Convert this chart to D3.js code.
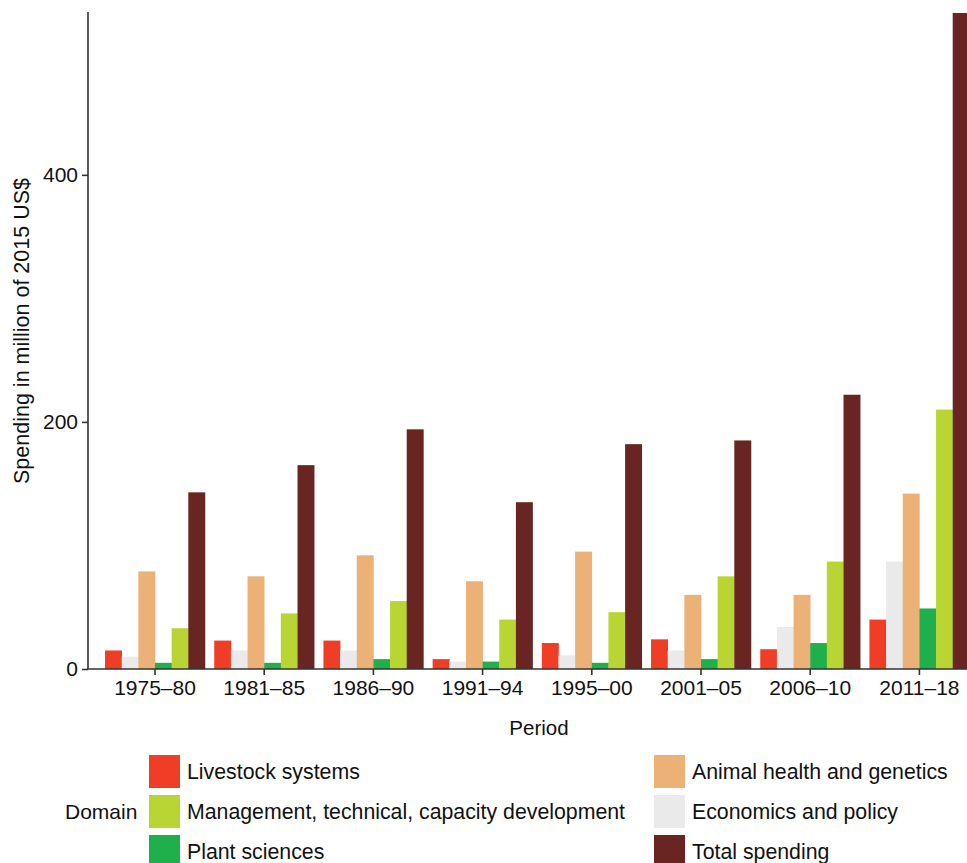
<!DOCTYPE html>
<html>
<head>
<meta charset="utf-8">
<script src="https://cdn.jsdelivr.net/npm/d3@7"></script>
<style>
  html, body { margin: 0; padding: 0; background: #fff; }
  svg { display: block; font-family: "Liberation Sans", Arial, Helvetica, sans-serif; }
</style>
</head>
<body>
<svg id="chart" width="967" height="863"></svg>
<script>
// ---- data ----
const periods = ["1975–80", "1981–85", "1986–90", "1991–94", "1995–00", "2001–05", "2006–10", "2011–18"];
const seriesKeys = ["Livestock systems", "Economics and policy", "Animal health and genetics", "Plant sciences", "Management, technical, capacity development", "Total spending"];
const livestock   = [15, 23, 23, 8, 21, 24, 16, 40];
const economics   = [10, 15, 15, 6, 11, 15, 34, 87];
const animal      = [79, 75, 92, 71, 95, 60, 60, 142];
const plant       = [5, 5, 8, 6, 5, 8, 21, 49];
const management  = [33, 45, 55, 40, 46, 75, 87, 210];
const total       = [143, 165, 194, 135, 182, 185, 222, 531];
const yTicks = [0, 200, 400];
const legendOrder = [
  ["Livestock systems", "Animal health and genetics"],
  ["Management, technical, capacity development", "Economics and policy"],
  ["Plant sciences", "Total spending"]
];
const colors = {
  "Livestock systems": "#EF3E25",
  "Economics and policy": "#EAEAEA",
  "Animal health and genetics": "#ECB176",
  "Plant sciences": "#1FB04B",
  "Management, technical, capacity development": "#B8D534",
  "Total spending": "#682522"
};
const valuesByKey = {
  "Livestock systems": livestock,
  "Economics and policy": economics,
  "Animal health and genetics": animal,
  "Plant sciences": plant,
  "Management, technical, capacity development": management,
  "Total spending": total
};

// ---- chart ----
const svg = d3.select("#chart");
const axisX = 88, baseY = 669, topY = 13;

const y = d3.scaleLinear().domain([0, 531]).range([baseY, topY]);
const x = d3.scaleBand().domain(periods).range([100.4, 974]).paddingInner(0.085).paddingOuter(0.0425);
const xs = d3.scaleBand().domain(seriesKeys).range([0, x.bandwidth()]).padding(0);

// bars
const groups = svg.append("g").selectAll("g").data(periods).join("g")
  .attr("transform", d => `translate(${x(d)},0)`);
groups.selectAll("rect")
  .data((p, i) => seriesKeys.map(k => ({ key: k, value: valuesByKey[k][i] })))
  .join("rect")
  .attr("x", d => xs(d.key))
  .attr("width", xs.bandwidth() + 0.3)
  .attr("y", d => y(d.value))
  .attr("height", d => baseY - y(d.value))
  .attr("fill", d => colors[d.key]);

// y axis
const yAxis = svg.append("g").attr("transform", `translate(${axisX},0)`)
  .call(d3.axisLeft(y).tickValues(yTicks).tickSize(6).tickPadding(4).tickSizeOuter(0));
yAxis.select(".domain").remove();
yAxis.append("line").attr("x1", 0).attr("x2", 0).attr("y1", 12).attr("y2", baseY)
  .attr("stroke", "#333").attr("stroke-width", 1.6);
yAxis.selectAll(".tick line").attr("stroke", "#333").attr("stroke-width", 1.6);
yAxis.selectAll(".tick text").attr("font-size", 21).attr("fill", "#111")
  .attr("font-family", "Liberation Sans, Arial, sans-serif");

// x axis
const xAxis = svg.append("g").attr("transform", `translate(0,${baseY})`)
  .call(d3.axisBottom(x).tickSize(6).tickPadding(5).tickSizeOuter(0));
xAxis.select(".domain").remove();
xAxis.append("line").attr("x1", axisX - 0.8).attr("x2", 967).attr("y1", 0).attr("y2", 0)
  .attr("stroke", "#333").attr("stroke-width", 1.6);
xAxis.selectAll(".tick line").attr("stroke", "#333").attr("stroke-width", 1.6);
xAxis.selectAll(".tick text").attr("font-size", 21).attr("fill", "#111")
  .attr("font-family", "Liberation Sans, Arial, sans-serif");

// axis titles
svg.append("text").attr("x", 539).attr("y", 735).attr("text-anchor", "middle")
  .attr("font-size", 20.5).attr("fill", "#111").text("Period");
svg.append("text").attr("transform", "translate(29,331) rotate(-90)")
  .attr("text-anchor", "middle").attr("font-size", 21.5).attr("fill", "#111")
  .text("Spending in million of 2015 US$");

// legend
const legend = svg.append("g");
legend.append("text").attr("x", 65).attr("y", 811).attr("dominant-baseline", "central")
  .attr("font-size", 21).attr("fill", "#111").text("Domain");
const colX = [149, 654];
const rowY = [755, 795, 835];
legendOrder.forEach((row, r) => {
  row.forEach((key, c) => {
    legend.append("rect").attr("x", colX[c]).attr("y", rowY[r]).attr("width", 31).attr("height", 33)
      .attr("fill", colors[key]);
    legend.append("text").attr("x", colX[c] + 38).attr("y", rowY[r] + 16.5)
      .attr("dominant-baseline", "central").attr("font-size", 21.3).attr("fill", "#111").text(key);
  });
});
</script>
</body>
</html>
